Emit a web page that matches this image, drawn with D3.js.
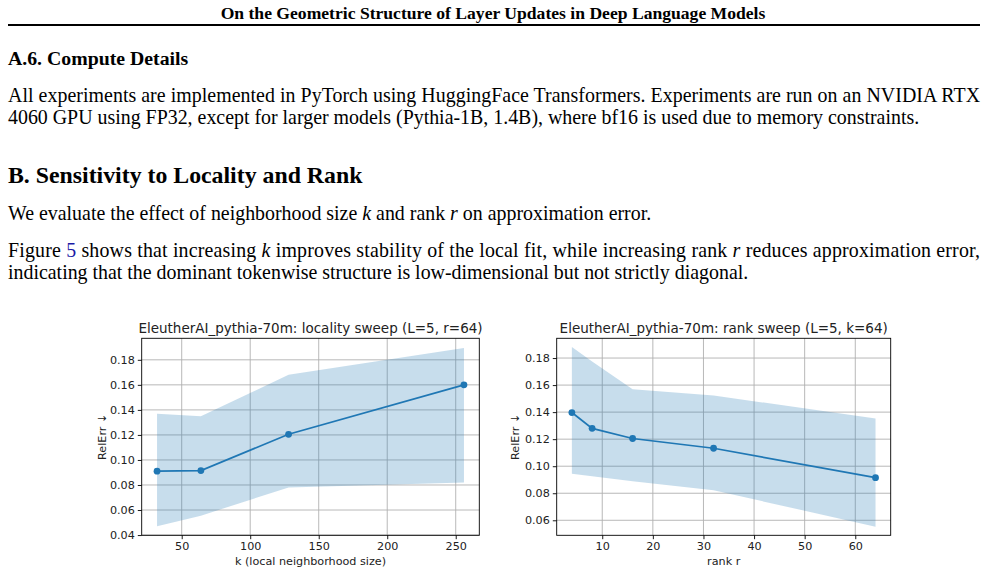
<!DOCTYPE html>
<html>
<head>
<meta charset="utf-8">
<script src="https://cdn.jsdelivr.net/npm/d3@7"></script>
<style>
  body { margin: 0; background: #fff; }
  svg { display: block; }
  .serif { font-family: "Liberation Serif", "Times New Roman", serif; fill: #000; }
  .plot text { font-family: "DejaVu Sans", sans-serif; fill: #222; }
</style>
</head>
<body>
<svg id="page" width="988" height="574"></svg>
<script>
// locality sweep (L=5, r=64)
const kVals = [32, 64, 128, 256];
const kMean = [0.091, 0.0915, 0.1205, 0.160];
const kLow = [0.047, 0.0555, 0.078, 0.082];
const kHigh = [0.137, 0.135, 0.168, 0.1895];
const kTicks = [50, 100, 150, 200, 250];
const kYTicks = [0.04, 0.06, 0.08, 0.10, 0.12, 0.14, 0.16, 0.18];

// rank sweep (L=5, k=64)
const rVals = [4, 8, 16, 32, 64];
const rMean = [0.1397, 0.128, 0.1205, 0.1133, 0.0915];
const rLow = [0.0944, 0.0925, 0.0889, 0.0822, 0.0553];
const rHigh = [0.1882, 0.1775, 0.157, 0.1523, 0.1353];
const rTicks = [10, 20, 30, 40, 50, 60];
const rYTicks = [0.06, 0.08, 0.10, 0.12, 0.14, 0.16, 0.18];

const svg = d3.select("#page");
svg.append("rect").attr("width", 988).attr("height", 574).attr("fill", "#fff");

// ---- page text ----
const body = 19.9;
const txt = svg.append("g").attr("class", "serif");
txt.append("text").attr("x", 493).attr("y", 19).attr("text-anchor", "middle")
  .attr("font-size", 17.6).attr("font-weight", "bold")
  .text("On the Geometric Structure of Layer Updates in Deep Language Models");
txt.append("rect").attr("x", 8).attr("y", 24).attr("width", 972).attr("height", 2).attr("fill", "#000");

txt.append("text").attr("x", 8).attr("y", 65).attr("font-size", 19.8).attr("font-weight", "bold")
  .text("A.6. Compute Details");
txt.append("text").attr("x", 8).attr("y", 102).attr("font-size", body)
  .attr("textLength", 972).attr("lengthAdjust", "spacing")
  .text("All experiments are implemented in PyTorch using HuggingFace Transformers. Experiments are run on an NVIDIA RTX");
txt.append("text").attr("x", 8).attr("y", 124).attr("font-size", body)
  .text("4060 GPU using FP32, except for larger models (Pythia-1B, 1.4B), where bf16 is used due to memory constraints.");

txt.append("text").attr("x", 8).attr("y", 183).attr("font-size", 23.8).attr("font-weight", "bold")
  .text("B. Sensitivity to Locality and Rank");

const p1 = txt.append("text").attr("x", 8).attr("y", 220).attr("font-size", body);
p1.append("tspan").text("We evaluate the effect of neighborhood size ");
p1.append("tspan").attr("font-style", "italic").text("k");
p1.append("tspan").text(" and rank ");
p1.append("tspan").attr("font-style", "italic").text("r");
p1.append("tspan").text(" on approximation error.");

const p2 = txt.append("text").attr("x", 8).attr("y", 257).attr("font-size", body)
  .attr("textLength", 972).attr("lengthAdjust", "spacing");
p2.append("tspan").text("Figure ");
p2.append("tspan").attr("fill", "#1a1aa6").text("5");
p2.append("tspan").text(" shows that increasing ");
p2.append("tspan").attr("font-style", "italic").text("k");
p2.append("tspan").text(" improves stability of the local fit, while increasing rank ");
p2.append("tspan").attr("font-style", "italic").text("r");
p2.append("tspan").text(" reduces approximation error,");
txt.append("text").attr("x", 8).attr("y", 279).attr("font-size", body)
  .text("indicating that the dominant tokenwise structure is low-dimensional but not strictly diagonal.");

// ---- charts ----
const blue = "#1f77b4";

function drawPanel(opt) {
  const { left, right, top, bottom } = opt.box;
  const g = svg.append("g").attr("class", "plot");

  const x = d3.scaleLinear().domain(opt.xDomain).range([left, right]);
  const y = d3.scaleLinear().domain(opt.yDomain).range([bottom, top]);

  // grid
  g.append("g").selectAll("line").data(opt.xTicks).join("line")
    .attr("x1", d => x(d)).attr("x2", d => x(d)).attr("y1", top).attr("y2", bottom)
    .attr("stroke", "#b0b0b0").attr("stroke-width", 0.9);
  g.append("g").selectAll("line").data(opt.yTicks).join("line")
    .attr("x1", left).attr("x2", right).attr("y1", d => y(d)).attr("y2", d => y(d))
    .attr("stroke", "#b0b0b0").attr("stroke-width", 0.9);

  // band
  const band = opt.xs.map((v, i) => ({ x: v, lo: opt.lo[i], hi: opt.hi[i] }));
  g.append("path").datum(band)
    .attr("fill", blue).attr("fill-opacity", 0.25)
    .attr("d", d3.area().x(d => x(d.x)).y0(d => y(d.lo)).y1(d => y(d.hi)));

  // mean line + markers
  const pts = opt.xs.map((v, i) => ({ x: v, y: opt.mean[i] }));
  g.append("path").datum(pts)
    .attr("fill", "none").attr("stroke", blue).attr("stroke-width", 1.7)
    .attr("d", d3.line().x(d => x(d.x)).y(d => y(d.y)));
  g.append("g").selectAll("circle").data(pts).join("circle")
    .attr("cx", d => x(d.x)).attr("cy", d => y(d.y)).attr("r", 3.4).attr("fill", blue);

  // axes
  const xAxis = g.append("g").attr("transform", `translate(0,${bottom})`)
    .call(d3.axisBottom(x).tickValues(opt.xTicks).tickSize(3.9).tickPadding(3).tickFormat(d3.format("d")));
  const yAxis = g.append("g").attr("transform", `translate(${left},0)`)
    .call(d3.axisLeft(y).tickValues(opt.yTicks).tickSize(3.9).tickPadding(3).tickFormat(d3.format(".2f")));
  [xAxis, yAxis].forEach(a => {
    a.select(".domain").remove();
    a.selectAll("line").attr("stroke", "#000").attr("stroke-width", 0.9);
    a.selectAll("text").attr("font-size", 11.2).attr("fill", "#222")
      .attr("font-family", "DejaVu Sans, sans-serif");
  });

  // frame
  g.append("rect").attr("x", left).attr("y", top).attr("width", right - left).attr("height", bottom - top)
    .attr("fill", "none").attr("stroke", "#000").attr("stroke-width", 0.9);

  g.append("text").attr("x", (left + right) / 2).attr("y", 332.5).attr("text-anchor", "middle")
    .attr("font-size", 13.5).text(opt.title);
  g.append("text").attr("x", (left + right) / 2).attr("y", 565).attr("text-anchor", "middle")
    .attr("font-size", 11.2).text(opt.xLabel);
  g.append("text").attr("transform", `translate(${opt.yLabelX},${(top + bottom) / 2}) rotate(-90)`)
    .attr("text-anchor", "middle").attr("font-size", 11.2).text("RelErr \u2193");
}

drawPanel({
  box: { left: 141.7, right: 479.3, top: 338.3, bottom: 535.3 },
  xDomain: [20.8, 267.2], yDomain: [0.0398, 0.1972],
  xs: kVals, mean: kMean, lo: kLow, hi: kHigh,
  xTicks: kTicks, yTicks: kYTicks,
  title: "EleutherAI_pythia-70m: locality sweep (L=5, r=64)",
  xLabel: "k (local neighborhood size)", yLabelX: 105.5
});

drawPanel({
  box: { left: 556.7, right: 890.7, top: 338.3, bottom: 535.3 },
  xDomain: [1, 67], yDomain: [0.0489, 0.1946],
  xs: rVals, mean: rMean, lo: rLow, hi: rHigh,
  xTicks: rTicks, yTicks: rYTicks,
  title: "EleutherAI_pythia-70m: rank sweep (L=5, k=64)",
  xLabel: "rank r", yLabelX: 519
});
</script>
</body>
</html>
